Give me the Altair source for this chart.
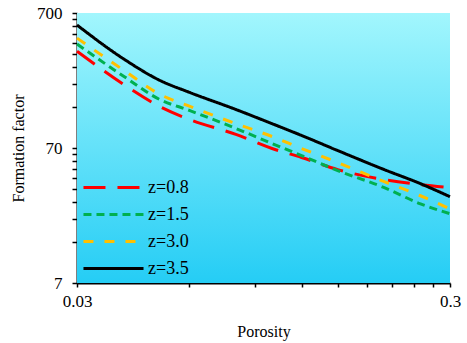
import altair as alt
import pandas as pd

porosity = [0.03, 0.04, 0.05, 0.06, 0.08, 0.10, 0.12, 0.15, 0.20, 0.25, 0.30]
f_z08 = [365, 207, 142, 114, 88.3, 69.4, 59.5, 48.4, 40.8, 37.5, 35.6]
f_z15 = [412, 238, 160, 133, 97.7, 75.6, 61.5, 47.6, 35.6, 27.0, 22.8]
f_z30 = [456, 264, 175, 143, 106, 85.2, 69.4, 54.6, 39.4, 31.0, 24.8]
f_z35 = [570, 320, 222, 181, 135, 106, 86.7, 67.0, 48.4, 38.1, 30.5]

labels = ["z=0.8", "z=1.5", "z=3.0", "z=3.5"]
colors = ["#FF0000", "#00B050", "#FFC000", "#000000"]
dashes = [[22, 12], [8, 5], [10, 11], [1, 0]]

x_ticks = [0.03, 0.06, 0.09, 0.12, 0.15, 0.18, 0.21, 0.24, 0.27, 0.30]
y_ticks = [7, 14, 21, 28, 35, 42, 49, 56, 63, 70, 140, 210, 280, 350, 420, 490, 560, 630, 700]

rows = []
for lab, ys in zip(labels, [f_z08, f_z15, f_z30, f_z35]):
    for i, (p, f) in enumerate(zip(porosity, ys)):
        rows.append({"porosity": p, "F": f, "z": lab, "i": i})
df = pd.DataFrame(rows)

bg = pd.DataFrame([{"x": 0.03, "x2": 0.3, "y": 7, "y2": 700}])

font = "Times New Roman, Liberation Serif, serif"

xscale = alt.Scale(type="log", domain=[0.03, 0.3], nice=False, zero=False)
yscale = alt.Scale(type="log", domain=[7, 700], nice=False, zero=False)

background = alt.Chart(bg).mark_rect(
    fill=alt.Gradient(
        gradient="linear", x1=0, y1=0, x2=0, y2=1,
        stops=[alt.GradientStop(color="#A2F6FD", offset=0),
               alt.GradientStop(color="#25CDF5", offset=1)]
    ),
    stroke=None
).encode(
    x=alt.X("x:Q", scale=xscale),
    x2="x2:Q",
    y=alt.Y("y:Q", scale=yscale),
    y2="y2:Q",
)

lines = alt.Chart(df).mark_line(strokeWidth=3, interpolate="monotone").encode(
    x=alt.X("porosity:Q", scale=xscale,
            axis=alt.Axis(values=x_ticks, title="Porosity",
                          labelExpr="datum.value < 0.031 ? '0.03' : (datum.value > 0.29 ? '0.3' : '')",
                          tickSize=4, labelPadding=6, grid=False,
                          titleX=186.5, titleY=53, titleBaseline="alphabetic")),
    y=alt.Y("F:Q", scale=yscale,
            axis=alt.Axis(values=y_ticks, title="Formation factor",
                          labelExpr="(datum.value == 7 || datum.value == 70 || datum.value == 700) ? datum.value + '' : ''",
                          tickSize=5, labelPadding=10, grid=False,
                          titleX=-59, titleY=135, titleAngle=-90,
                          titleAlign="center", titleBaseline="middle")),
    color=alt.Color("z:N", scale=alt.Scale(domain=labels, range=colors),
                    legend=alt.Legend(title=None, orient="none", legendX=24, legendY=162,
                                      symbolType="M-2.73,0L2.73,0", symbolSize=484,
                                      symbolStrokeWidth=3, labelOffset=22,
                                      labelFont=font, labelFontSize=18, labelColor="black",
                                      rowPadding=5, padding=0)),
    strokeDash=alt.StrokeDash("z:N", scale=alt.Scale(domain=labels, range=dashes), legend=None),
    order="i:Q",
)

chart = alt.layer(background, lines).properties(
    width=373, height=270,
    autosize=alt.AutoSizeParams(type="none"),
    padding={"left": 77, "top": 13, "right": 17, "bottom": 60},
).configure_view(stroke=None).configure_axis(
    domainColor="black", domainWidth=2, tickColor="black", tickWidth=1.5,
    labelFont=font, labelFontSize=17, labelColor="black",
    titleFont=font, titleFontSize=16, titleFontWeight="normal", titleColor="black",
    labelOverlap=False, labelFlush=False, labelBound=False,
).configure_legend(labelFont=font)

chart.save("out.html", embed_options={"renderer": "svg", "actions": False})
